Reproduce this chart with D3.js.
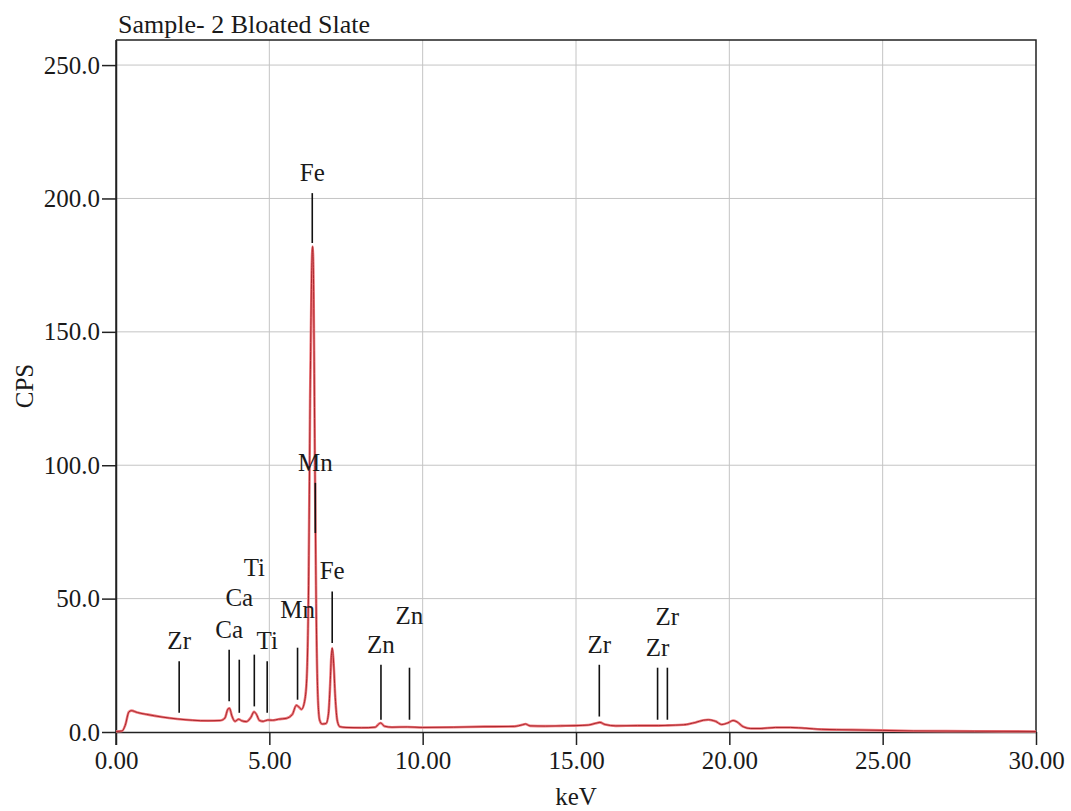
<!DOCTYPE html>
<html>
<head>
<meta charset="utf-8">
<script src="https://cdn.jsdelivr.net/npm/d3@7"></script>
<style>
  body { margin: 0; background: #fff; }
  text { font-family: "Liberation Serif", "Times New Roman", serif; fill: #1a1a1a; }
</style>
</head>
<body>
<div id="chart"></div>
<script>
// spectrum: energy (keV) and counts per second
const energy = [0.00, 0.20, 0.30, 0.42, 0.50, 0.70, 1.00, 1.50, 2.00, 2.50, 3.00, 3.40, 3.55, 3.65, 3.70, 3.78, 3.88, 4.00, 4.10, 4.25,
  4.40, 4.50, 4.58, 4.68, 4.80, 4.95, 5.10, 5.30, 5.55, 5.75, 5.88, 5.95, 6.05, 6.15, 6.22, 6.28, 6.33, 6.38, 6.41, 6.44,
  6.48, 6.53, 6.58, 6.64, 6.72, 6.85, 6.93, 6.98, 7.02, 7.05, 7.09, 7.15, 7.22, 7.30, 7.50, 8.00, 8.45, 8.56, 8.63, 8.75,
  9.00, 9.50, 10.0, 11.0, 12.0, 13.0, 13.25, 13.35, 13.50, 14.0, 14.5, 15.0, 15.4, 15.65, 15.78, 15.95, 16.3, 17.0, 17.7, 18.0,
  18.5, 18.9, 19.15, 19.32, 19.55, 19.75, 19.95, 20.12, 20.25, 20.45, 20.7, 21.0, 21.5, 22.0, 22.5, 23.0, 24.0, 25.0, 26.0, 28.0, 30.0];
const cps = [0.2, 0.4, 2.5, 7.5, 8.0, 7.3, 6.6, 5.6, 4.9, 4.4, 4.2, 4.3, 5.2, 8.6, 8.9, 6.0, 4.0, 4.8, 4.2, 3.9,
  5.5, 7.6, 6.6, 4.3, 4.0, 4.5, 4.4, 4.8, 5.1, 6.6, 10.0, 9.5, 8.5, 11.5, 20, 55, 125, 172, 182, 170,
  110, 45, 14, 4.5, 3.0, 3.2, 7, 17, 28, 31.5, 27, 13, 4, 2.0, 1.7, 1.6, 1.8, 2.9, 3.4, 2.2,
  1.8, 1.9, 1.7, 1.8, 2.0, 2.1, 2.7, 3.0, 2.3, 2.2, 2.3, 2.4, 2.6, 3.3, 3.6, 2.8, 2.3, 2.4, 2.4, 2.5,
  2.7, 3.6, 4.4, 4.6, 4.0, 2.8, 3.4, 4.3, 3.8, 2.0, 1.3, 1.3, 1.7, 1.7, 1.4, 1.0, 0.8, 0.6, 0.4, 0.3, 0.2];

// element marker lines: label, energy, line top and bottom in CPS
const markerLabels = ["Zr", "Ca", "Ca", "Ti", "Ti", "Mn", "Fe", "Mn", "Fe", "Zn", "Zn", "Zr", "Zr", "Zr"];
const markerKeV = [2.06, 3.69, 4.02, 4.51, 4.93, 5.92, 6.40, 6.50, 7.05, 8.64, 9.57, 15.76, 17.66, 17.98];
const markerTop = [26.5, 30.8, 27.1, 29.0, 26.5, 31.6, 202.0, 93.4, 52.7, 25.2, 24.1, 25.2, 24.1, 24.1];
const markerBottom = [7.2, 11.5, 7.2, 9.6, 7.2, 12.1, 183.3, 74.6, 33.4, 4.6, 4.6, 5.8, 4.6, 4.6];

const xTicks = [0, 5, 10, 15, 20, 25, 30];
const yTicks = [0, 50, 100, 150, 200, 250];

const title = "Sample- 2 Bloated Slate";

const width = 1071, height = 811;
const margin = { top: 40, right: 35, bottom: 79, left: 116 };
const plotW = width - margin.left - margin.right;
const plotH = height - margin.top - margin.bottom;

// how far some labels are pushed up so they don't collide (px)
const labelLift = [0, 0, 42, 67, 0, 18, 0, 0, 0, 0, 32, 0, 0, 31];

const svg = d3.select("#chart").append("svg")
  .attr("width", width)
  .attr("height", height);

const x = d3.scaleLinear().domain([0, 30]).range([0, plotW]);
const y = d3.scaleLinear().domain([0, 259.4]).range([plotH, 0]);

const g = svg.append("g").attr("transform", `translate(${margin.left},${margin.top})`);

// grid
g.selectAll(".vgrid").data(xTicks.slice(1, -1)).enter().append("line")
  .attr("x1", d => x(d)).attr("x2", d => x(d))
  .attr("y1", 0).attr("y2", plotH)
  .attr("stroke", "#c4c4c4").attr("stroke-width", 1);
g.selectAll(".hgrid").data(yTicks.slice(1)).enter().append("line")
  .attr("x1", 0).attr("x2", plotW)
  .attr("y1", d => y(d)).attr("y2", d => y(d))
  .attr("stroke", "#c4c4c4").attr("stroke-width", 1);

// frame top + right
g.append("path")
  .attr("d", `M0,0H${plotW}V${plotH}`)
  .attr("fill", "none").attr("stroke", "#222").attr("stroke-width", 1.5);

// axes
const xAxis = g.append("g")
  .attr("transform", `translate(0,${plotH})`)
  .call(d3.axisBottom(x).tickValues(xTicks).tickFormat(d3.format(".2f")).tickSize(13).tickPadding(6).tickSizeOuter(0));
const yAxis = g.append("g")
  .call(d3.axisLeft(y).tickValues(yTicks).tickFormat(d3.format(".1f")).tickSize(14).tickPadding(2).tickSizeOuter(0));

[xAxis, yAxis].forEach(a => {
  a.select(".domain").attr("stroke", "#222").attr("stroke-width", 1.5);
  a.selectAll(".tick line").attr("stroke", "#222").attr("stroke-width", 1.5);
  a.selectAll(".tick text").attr("font-family", "Liberation Serif").attr("font-size", 25).attr("fill", "#1a1a1a");
});
// left axis line also runs down to the x tick
g.append("line").attr("x1", 0).attr("x2", 0).attr("y1", 0).attr("y2", plotH + 13)
  .attr("stroke", "#222").attr("stroke-width", 1.5);

// spectrum
const pts = energy.map((e, i) => [e, cps[i]]);
const line = d3.line().x(d => x(d[0])).y(d => y(d[1])).curve(d3.curveMonotoneX);
g.append("path").datum(pts)
  .attr("d", line).attr("fill", "none")
  .attr("stroke", "#f07a7e").attr("stroke-width", 2.6).attr("stroke-linejoin", "round");
g.append("path").datum(pts)
  .attr("d", line).attr("fill", "none")
  .attr("stroke", "#a8262c").attr("stroke-width", 1).attr("stroke-linejoin", "round");

// markers
const markers = markerLabels.map((l, i) => ({ label: l, keV: markerKeV[i], top: markerTop[i], bottom: markerBottom[i], lift: labelLift[i] }));
const mg = g.selectAll(".marker").data(markers).enter().append("g");
mg.append("line")
  .attr("x1", d => x(d.keV)).attr("x2", d => x(d.keV))
  .attr("y1", d => y(d.top)).attr("y2", d => y(d.bottom))
  .attr("stroke", "#111").attr("stroke-width", 1.6);
mg.append("text")
  .attr("x", d => x(d.keV))
  .attr("y", d => y(d.top) - 12 - d.lift)
  .attr("text-anchor", "middle")
  .attr("font-size", 25)
  .text(d => d.label);

// title + axis titles
svg.append("text")
  .attr("x", margin.left + 2).attr("y", margin.top - 7)
  .attr("font-size", 26)
  .text(title);
svg.append("text")
  .attr("x", margin.left + plotW / 2 + 0).attr("y", 805)
  .attr("text-anchor", "middle").attr("font-size", 25)
  .text("keV");
svg.append("text")
  .attr("transform", `translate(33,${margin.top + plotH / 2 + 0}) rotate(-90)`)
  .attr("text-anchor", "middle").attr("font-size", 25)
  .text("CPS");
</script>
</body>
</html>
